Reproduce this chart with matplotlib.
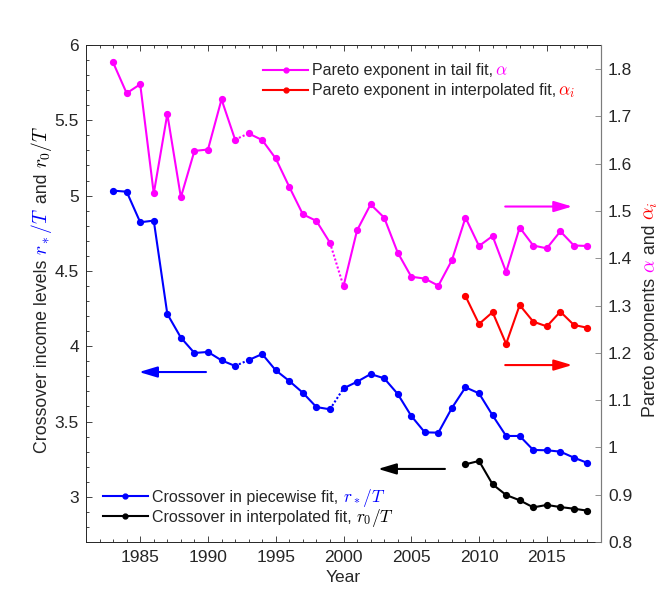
import numpy as np
import matplotlib
matplotlib.use("Agg")
import matplotlib.pyplot as plt
from matplotlib.lines import Line2D
from matplotlib.font_manager import FontProperties
from matplotlib.ticker import MultipleLocator, FuncFormatter

years = list(range(1983, 2019))
alpha_tail = [1.814, 1.749, 1.768, 1.537, 1.705, 1.529, 1.627, 1.630, 1.736, 1.651,
              1.664, 1.650, 1.611, 1.551, 1.493, 1.479, 1.433, 1.341, 1.459, 1.514,
              1.486, 1.412, 1.361, 1.357, 1.342, 1.396, 1.486, 1.426, 1.447, 1.371,
              1.465, 1.427, 1.421, 1.457, 1.427, 1.426]
r_star = [5.033, 5.026, 4.823, 4.834, 4.214, 4.057, 3.955, 3.962, 3.906, 3.869,
          3.908, 3.948, 3.840, 3.769, 3.691, 3.596, 3.581, 3.720, 3.764, 3.815,
          3.787, 3.683, 3.537, 3.428, 3.426, 3.590, 3.727, 3.687, 3.541, 3.404,
          3.404, 3.311, 3.309, 3.300, 3.260, 3.225]
years_interp = list(range(2009, 2019))
alpha_interp = [1.320, 1.261, 1.286, 1.219, 1.301, 1.266, 1.256, 1.287, 1.259, 1.253]
r_zero = [3.216, 3.238, 3.083, 3.012, 2.977, 2.930, 2.946, 2.932, 2.921, 2.908]
dotted_after = [1992, 1999]  # these years are joined to the next one by a dotted line

MAGENTA, RED, BLUE, BLACK = "#FF00FF", "#FF0000", "#0000FF", "#000000"
TXT = "#262626"

plt.rcParams["font.family"] = ["Liberation Sans", "DejaVu Sans"]
plt.rcParams["mathtext.fontset"] = "cm"


def plot_series(axis, x, y, color, dotted=()):
    x = np.asarray(x)
    y = np.asarray(y)
    idx = [int(np.where(x == d)[0][0]) for d in dotted]
    cuts = [0] + [i + 1 for i in idx] + [len(x)]
    for a, b in zip(cuts[:-1], cuts[1:]):
        axis.plot(x[a:b], y[a:b], color=color, lw=1.5, marker="o", ms=4.2)
    for i in idx:
        axis.plot(x[i:i + 2], y[i:i + 2], color=color, lw=1.5, ls=(0, (1, 1)))


fig = plt.figure(figsize=(6.64, 6.10), dpi=100)
ax = fig.add_axes([86 / 664, 1 - 542 / 610, 515 / 664, 497 / 610])
ax2 = ax.twinx()

plot_series(ax, years, r_star, BLUE, dotted_after)
plot_series(ax, years_interp, r_zero, BLACK)
plot_series(ax2, years, alpha_tail, MAGENTA, dotted_after)
plot_series(ax2, years_interp, alpha_interp, RED)

ax.set_xlim(1981, 2019)
ax.set_ylim(2.7, 6)
ax2.set_ylim(0.8, 1.851)

fmt = FuncFormatter(lambda v, p: f"{v:g}")
ax.xaxis.set_major_locator(MultipleLocator(5))
ax.xaxis.set_minor_locator(MultipleLocator(1))
ax.yaxis.set_major_locator(MultipleLocator(0.5))
ax.yaxis.set_minor_locator(MultipleLocator(0.1))
ax.yaxis.set_major_formatter(fmt)
ax2.yaxis.set_major_locator(MultipleLocator(0.1))
ax2.yaxis.set_major_formatter(fmt)

ax.tick_params(axis="x", which="both", direction="in", top=True, colors=TXT,
               labelsize=12.5, pad=6)
ax.tick_params(axis="y", which="both", direction="in", right=False, colors=TXT,
               labelsize=12.5, pad=5)
ax.tick_params(which="major", length=4, width=0.6)
ax.tick_params(which="minor", length=2.2, width=0.6)
ax2.tick_params(axis="y", direction="in", length=4, width=0.6, colors="#808080",
                labelcolor=TXT, labelsize=12.5, pad=5)
for s in ["left", "top", "bottom"]:
    ax.spines[s].set_color(TXT)
    ax.spines[s].set_linewidth(0.7)
ax2.spines["right"].set_color("#808080")
ax2.spines["right"].set_linewidth(0.7)
for s in ["left", "top", "bottom"]:
    ax2.spines[s].set_visible(False)

ax.set_xlabel("Year", fontsize=12.5, color=TXT, labelpad=3)

# direction arrows
arrows = [((0.944, 0.675), (0.814, 0.675), MAGENTA),
          ((0.944, 0.356), (0.814, 0.356), RED),
          ((0.103, 0.342), (0.233, 0.342), BLUE),
          ((0.567, 0.147), (0.697, 0.147), BLACK)]
for tip, tail, c in arrows:
    ax2.annotate("", xy=tip, xytext=tail, xycoords="axes fraction",
                 arrowprops=dict(arrowstyle="-|>,head_length=1.1,head_width=0.33",
                                 color=c, lw=1.5, shrinkA=0, shrinkB=0))


def handle(c):
    return Line2D([], [], color=c, lw=1.5, marker="o", ms=3.5)


leg_kw = dict(frameon=False, fontsize=11.5, borderpad=0, borderaxespad=0,
              handlelength=2.8, handletextpad=0.25, labelspacing=0.3, loc="upper left")
leg1 = ax2.legend([handle(MAGENTA), handle(RED)],
                  ["Pareto exponent in tail fit,", "Pareto exponent in interpolated fit,"],
                  bbox_to_anchor=(0.344, 0.963), **leg_kw)
ax2.add_artist(leg1)
leg2 = ax2.legend([handle(BLUE), handle(BLACK)],
                  ["Crossover in piecewise fit,", "Crossover in interpolated fit,"],
                  bbox_to_anchor=(0.033, 0.105), **leg_kw)
for t in leg1.get_texts() + leg2.get_texts():
    t.set_color(TXT)

fig.canvas.draw()
renderer = fig.canvas.get_renderer()

# coloured math at the end of each legend entry, on the same baseline
math_bits = [(leg1.get_texts()[0], r"$\,\alpha$", MAGENTA),
             (leg1.get_texts()[1], r"$\,\alpha_i$", RED),
             (leg2.get_texts()[0], r"$\ r_*/T$", BLUE),
             (leg2.get_texts()[1], r"$\ r_0/T$", BLACK)]
for t, s, c in math_bits:
    x_end = t.get_window_extent(renderer).x1
    y_base = t.get_transform().transform(t.get_position())[1]
    fig.text(x_end / 664, y_base / 610, s, ha="left", va="baseline", color=c,
             fontsize=12.5)


# rotated axis labels built from coloured pieces laid end to end
def rotated_label(x_base, y_start, pieces, size=12.8):
    y = y_start
    for s, c in pieces:
        fs = 14 if "$" in s else size
        fig.text(x_base / 664, y / 610, s, color=c, rotation=90, rotation_mode="anchor",
                 ha="left", va="baseline", fontsize=fs)
        prop = FontProperties(family=plt.rcParams["font.family"], size=fs)
        w, h, d = renderer.get_text_width_height_descent(s, prop, ismath="$" in s)
        y += w


rotated_label(47, 610 - 453, [("Crossover income levels ", TXT), (r"$r_*/T$", BLUE),
                              (" and ", TXT), (r"$r_0/T$", BLACK)])
rotated_label(655, 610 - 417, [("Pareto exponents ", TXT), (r"$\alpha$", MAGENTA),
                               (" and ", TXT), (r"$\alpha_i$", RED)])

fig.savefig("out.png", dpi=100)
